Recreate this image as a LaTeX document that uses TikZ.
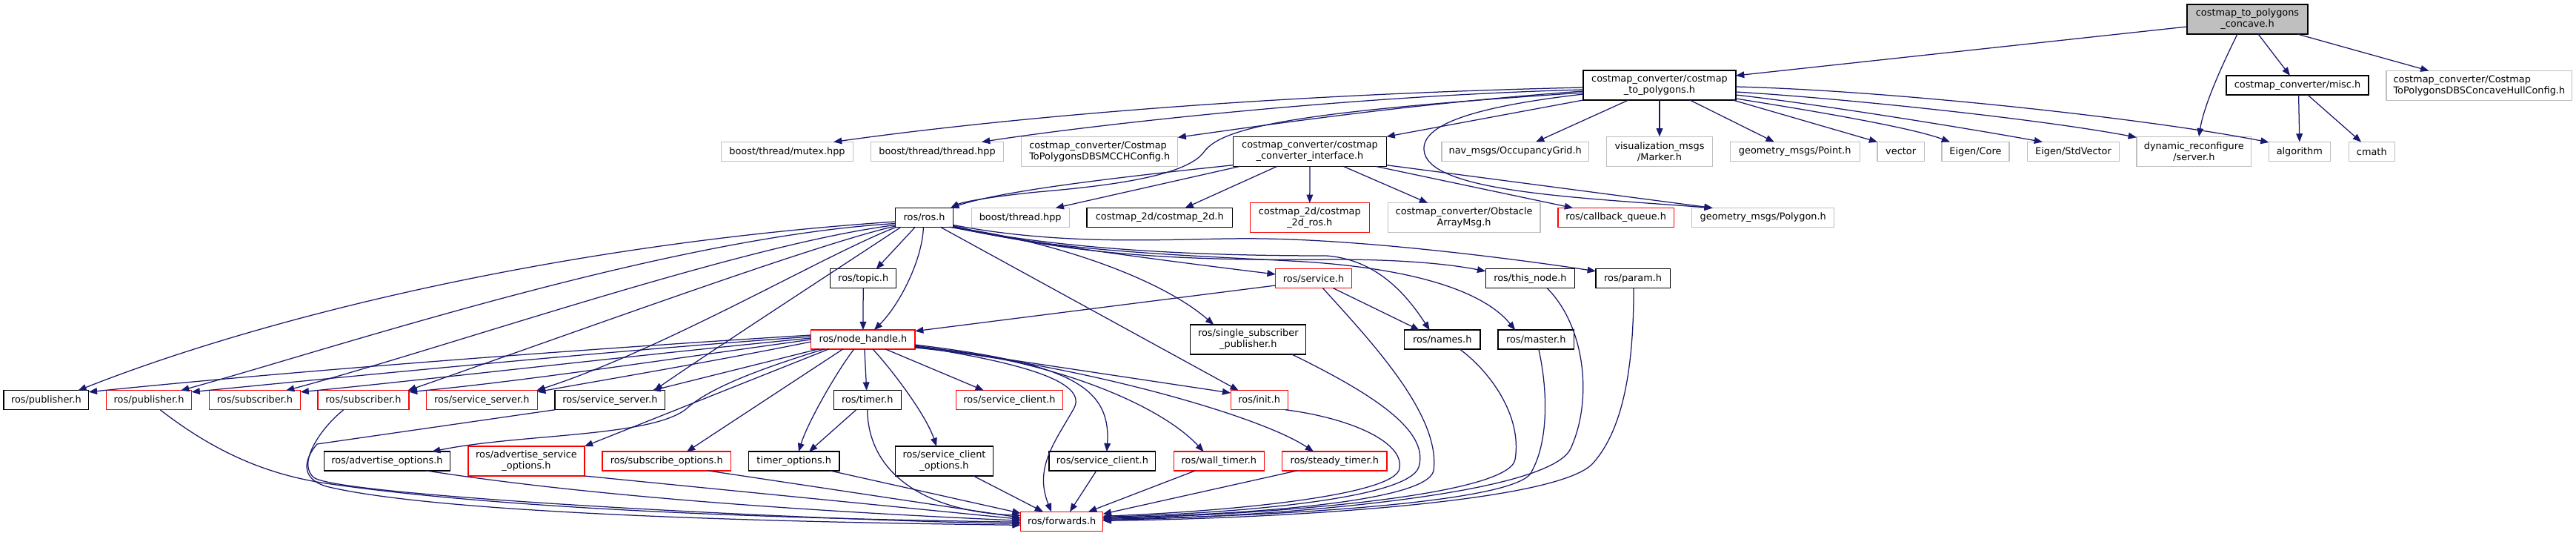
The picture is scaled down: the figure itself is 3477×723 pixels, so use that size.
\documentclass[tikz,border=0pt]{standalone}
\usepackage{fontspec}
\setmainfont{DejaVu Sans}
\usetikzlibrary{arrows.meta,calc}
\definecolor{edgec}{RGB}{25,25,112}
\definecolor{greyb}{RGB}{191,191,191}
\definecolor{redb}{RGB}{255,0,0}
\newcommand{\gn}[6]{\node[#1, minimum width=#4*0.8pt, minimum height=#5*0.8pt] (#2) at (#3) {#6};}
\begin{document}
\begin{tikzpicture}[x=0.8pt, y=-0.8pt,
  every node/.style={font=\fontsize{10.3}{12}\selectfont},
  nb/.style={draw, inner sep=0pt, align=center, line width=1pt, fill=white},
  blk/.style={nb, draw=black},
  gry/.style={nb, draw=greyb},
  rd/.style={nb, draw=redb},
  topn/.style={nb, draw=black, fill=greyb},
  e/.style={draw=edgec, line width=1pt, -{Triangle[length=9pt,width=7pt]}}]
\fill[white] (0,0) rectangle (3477,723);
\useasboundingbox (0,0) rectangle (3477,723);
% row 0-1
\gn{topn}{concave}{3033.5,26}{163}{40}{costmap\_to\_polygons\\\_concave.h}
\gn{blk}{ctp}{2240,115}{206}{40}{costmap\_converter/costmap\\\_to\_polygons.h}
\gn{blk}{misc}{3101,115}{192}{26}{costmap\_converter/misc.h}
\gn{gry,align=left}{cfgA}{3346.3,115.5}{250.5}{40}{costmap\_converter/Costmap\\ToPolygonsDBSConcaveHullConfig.h}
% row 2
\gn{gry}{mutex}{1062.5,204.5}{177.5}{26}{boost/thread/mutex.hpp}
\gn{gry}{threadA}{1265,204.5}{178.7}{26}{boost/thread/thread.hpp}
\gn{gry,align=left}{cfgB}{1484.2,204.3}{210.8}{40}{costmap\_converter/Costmap\\ToPolygonsDBSMCCHConfig.h}
\gn{blk}{iface}{1768,204.3}{207}{40}{costmap\_converter/costmap\\\_converter\_interface.h}
\gn{gry}{occ}{2045.2,204.5}{198.6}{26}{nav\_msgs/OccupancyGrid.h}
\gn{gry}{marker}{2240,204.3}{143.2}{40}{visualization\_msgs\\/Marker.h}
\gn{gry}{point}{2422.7,204.5}{174.8}{26}{geometry\_msgs/Point.h}
\gn{gry}{vector}{2565.6,204.5}{63.2}{26}{vector}
\gn{gry}{ecore}{2666.4,204.5}{91}{26}{Eigen/Core}
\gn{gry}{estd}{2798.5,204.5}{124.3}{26}{Eigen/StdVector}
\gn{gry}{dynrec}{2961.3,204.3}{154.8}{40}{dynamic\_reconfigure\\/server.h}
\gn{gry}{algo}{3103.8,204.5}{82.7}{26}{algorithm}
\gn{gry}{cmath}{3201.3,204.5}{62.1}{26}{cmath}
% row 3
\gn{blk}{rosh}{1247.6,293.5}{78.2}{26}{ros/ros.h}
\gn{gry}{threadB}{1377.2,293.5}{132.1}{26}{boost/thread.hpp}
\gn{blk}{cm2d}{1565.3,293.5}{196.5}{26}{costmap\_2d/costmap\_2d.h}
\gn{rd}{cm2dros}{1767.8,293.8}{161}{40}{costmap\_2d/costmap\\\_2d\_ros.h}
\gn{gry}{obst}{1976.1,293.8}{205.8}{40}{costmap\_converter/Obstacle\\ArrayMsg.h}
\gn{rd}{cbq}{2181.1,293.5}{156.4}{26}{ros/callback\_queue.h}
\gn{gry}{poly}{2379.7,293.5}{192}{26}{geometry\_msgs/Polygon.h}
% row 4
\gn{blk}{topic}{1165.2,375.8}{88.8}{26}{ros/topic.h}
\gn{rd}{service}{1773,375.8}{102.6}{26}{ros/service.h}
\gn{blk}{thisnode}{2065.4,375.8}{120.4}{26}{ros/this\_node.h}
\gn{blk}{param}{2204.1,375.8}{100.4}{26}{ros/param.h}
% row 5
\gn{rd}{nh}{1164.9,458}{140.4}{26}{ros/node\_handle.h}
\gn{blk}{ssp}{1684.8,458}{156}{40}{ros/single\_subscriber\\\_publisher.h}
\gn{blk}{names}{1946.7,458}{102.6}{26}{ros/names.h}
\gn{blk}{master}{2073.2,458}{102.6}{26}{ros/master.h}
% row 6
\gn{blk}{pub1}{62.4,539.7}{114.8}{26}{ros/publisher.h}
\gn{rd}{pub2}{201.1,539.7}{114.9}{26}{ros/publisher.h}
\gn{rd}{sub1}{344,539.7}{123.2}{26}{ros/subscriber.h}
\gn{rd}{sub2}{490.5,539.7}{123.1}{26}{ros/subscriber.h}
\gn{rd}{ssA}{650.3,539.7}{149.8}{26}{ros/service\_server.h}
\gn{blk}{ssB}{823.4,539.7}{148.7}{26}{ros/service\_server.h}
\gn{blk}{timer}{1170.7,539.7}{91}{26}{ros/timer.h}
\gn{rd}{sclA}{1362.5,539.7}{143.7}{26}{ros/service\_client.h}
\gn{rd}{init}{1699.7,539.7}{77.1}{26}{ros/init.h}
% row 7
\gn{blk}{advopt}{522.4,622}{170.3}{26}{ros/advertise\_options.h}
\gn{rd}{advsvc}{710.5,622}{157}{40}{ros/advertise\_service\\\_options.h}
\gn{rd}{subopt}{899.7,622}{173.6}{26}{ros/subscribe\_options.h}
\gn{blk}{timeropt}{1071.7,622}{122.6}{26}{timer\_options.h}
\gn{blk}{scopt}{1274.5,622}{132}{40}{ros/service\_client\\\_options.h}
\gn{blk}{sclB}{1487.9,622}{143.7}{26}{ros/service\_client.h}
\gn{rd}{wallt}{1645.4,622}{121.6}{26}{ros/wall\_timer.h}
\gn{rd}{steadyt}{1801.3,622}{141.4}{26}{ros/steady\_timer.h}
% row 8
\gn{rd}{fwd}{1433.2,703.3}{111}{26}{ros/forwards.h}

% ---- edges: concave
\draw[e] ($(concave)+(-81.5,10)$) -- ($(ctp)+(103,-13)$);
\draw[e] ($(concave)+(-13.5,20)$) .. controls (3003,80) and (2975,140) .. ($(dynrec)+(6.7,-20)$);
\draw[e] ($(concave)+(14.5,20)$) -- ($(misc)+(-10,-13)$);
\draw[e] ($(concave)+(67.5,20)$) -- ($(cfgA)+(-67.8,-20)$);
% misc
\draw[e] ($(misc)+(1.6,13)$) -- ($(algo)+(0,-13)$);
\draw[e] ($(misc)+(13.8,13)$) -- ($(cmath)+(-14.3,-13)$);
% ctp
\draw[e] ($(ctp)+(-103,20)$) -- ($(iface)+(103.5,-20)$);
\draw[e] ($(ctp)+(-42,20)$) -- ($(occ)+(27.8,-13)$);
\draw[e] ($(ctp)+(0,20)$) -- ($(marker)+(0,-20)$);
\draw[e] ($(ctp)+(41,20)$) -- ($(point)+(-27.9,-13)$);
\draw[e] ($(ctp)+(99,20)$) -- ($(vector)+(-31.6,-13)$);
\draw[e] ($(ctp)+(103,18)$) .. controls (2450,150) and (2580,172) .. ($(ecore)+(-34.4,-13)$);
\draw[e] ($(ctp)+(103,13)$) .. controls (2450,140) and (2650,172) .. ($(estd)+(-41.5,-13)$);
\draw[e] ($(ctp)+(103,9)$) .. controls (2480,132) and (2750,160) .. ($(dynrec)+(-77.4,-19)$);
\draw[e] ($(ctp)+(103,2)$) .. controls (2550,122) and (2900,160) .. ($(algo)+(-41.3,-12.5)$);
\draw[e] ($(ctp)+(-103,3)$) .. controls (1700,128) and (1350,160) .. ($(mutex)+(62.5,-13)$);
\draw[e] ($(ctp)+(-103,6)$) .. controls (1800,130) and (1450,172) .. ($(threadA)+(60,-13)$);
\draw[e] ($(ctp)+(-103,8)$) .. controls (1900,140) and (1700,170) .. ($(cfgB)+(105.4,-19)$);
\draw[e] ($(ctp)+(-103,10)$) .. controls (1760,150) and (1650,170) .. (1625,205) .. controls (1600,240) and (1480,252) .. (1400,259) .. controls (1340,265) and (1300,272) .. ($(rosh)+(35.4,-13)$);
\draw[e] ($(ctp)+(-103,12)$) .. controls (1980,145) and (1920,170) .. (1922,202) .. controls (1925,258) and (2120,266) .. ($(poly)+(-68,-13)$);
% iface
\draw[e] ($(iface)+(-103.5,18.4)$) .. controls (1500,240) and (1350,258) .. ($(rosh)+(35.4,-13)$);
\draw[e] ($(iface)+(-94,20)$) -- ($(threadB)+(47.5,-13)$);
\draw[e] ($(iface)+(-44,20)$) -- ($(cm2d)+(34.2,-13)$);
\draw[e] ($(iface)+(0,20)$) -- ($(cm2dros)+(0,-20)$);
\draw[e] ($(iface)+(45,20)$) -- ($(obst)+(-49,-20)$);
\draw[e] ($(iface)+(88.5,20)$) -- ($(cbq)+(-58,-13)$);
\draw[e] ($(iface)+(103.5,18.4)$) -- ($(poly)+(-68,-13)$);
% rosh left
\draw[e] ($(rosh)+(-39.1,5.5)$) .. controls (750,330) and (350,430) .. ($(pub1)+(43,-13)$);
\draw[e] ($(rosh)+(-39.1,8)$) .. controls (900,320) and (450,470) .. ($(pub2)+(43,-13)$);
\draw[e] ($(rosh)+(-39.1,10)$) .. controls (1000,330) and (600,470) .. ($(sub1)+(42,-13)$);
\draw[e] ($(rosh)+(-39.1,11.5)$) .. controls (1100,330) and (800,440) .. ($(sub2)+(60,-13)$);
\draw[e] ($(rosh)+(-37.6,12.8)$) .. controls (1120,340) and (900,470) .. ($(ssA)+(74,-13)$);
\draw[e] ($(rosh)+(-31.6,12.8)$) .. controls (1150,350) and (950,480) .. ($(ssB)+(59.6,-13)$);
% rosh others
\draw[e] ($(rosh)+(-12.3,12.8)$) -- ($(topic)+(17.4,-12.8)$);
\draw[e] ($(rosh)+(-1.2,12.8)$) .. controls (1245,350) and (1215,410) .. ($(nh)+(15,-12.8)$);
\draw[e] ($(rosh)+(35.6,12.8)$) .. controls (1400,330) and (1600,355) .. ($(service)+(-51.3,-5.8)$);
\draw[e] ($(rosh)+(33,12.8)$) .. controls (1400,320) and (1560,370) .. ($(ssp)+(-46.5,-20)$);
\draw[e] ($(rosh)+(21.7,12.8)$) -- ($(init)+(-28,-13)$);
\draw[e] ($(rosh)+(39,12.8)$) .. controls (1450,340) and (1650,345) .. (1790,345) .. controls (1860,350) and (1900,400) .. ($(names)+(-17,-12.8)$);
\draw[e] ($(rosh)+(39,11)$) .. controls (1450,345) and (1600,352) .. (1800,350) .. controls (1900,350) and (1960,357) .. ($(thisnode)+(-60.2,-10)$);
\draw[e] ($(rosh)+(39,10)$) .. controls (1450,335) and (1600,320) .. (1705,322) .. controls (1850,324) and (2050,350) .. ($(param)+(-50.2,-10)$);
\draw[e] ($(rosh)+(39,12)$) .. controls (1420,340) and (1620,345) .. (1760,353) .. controls (1900,362) and (2000,390) .. ($(master)+(-28,-12.8)$);
% topic, service
\draw[e] ($(topic)+(0,12.8)$) -- ($(nh)+(0,-12.8)$);
\draw[e] ($(service)+(-51.3,9.2)$) -- ($(nh)+(70.2,-11.3)$);
\draw[e] ($(service)+(26.3,12.8)$) -- ($(names)+(-31,-12.8)$);
\draw[e] ($(service)+(12.4,12.8)$) .. controls (1850,460) and (1945,560) .. (1935,635) .. controls (1925,680) and (1650,695) .. ($(fwd)+(55.5,-5)$);
% nh left
\draw[e] ($(nh)+(-70.2,-6)$) .. controls (800,470) and (400,500) .. ($(pub1)+(57.4,-11)$);
\draw[e] ($(nh)+(-70.2,-4)$) .. controls (800,475) and (450,510) .. ($(pub2)+(57.45,-11)$);
\draw[e] ($(nh)+(-70.2,-2)$) .. controls (850,480) and (550,515) .. ($(sub1)+(61.6,-11)$);
\draw[e] ($(nh)+(-70.2,0)$) .. controls (900,485) and (700,515) .. ($(sub2)+(61.55,-11)$);
\draw[e] ($(nh)+(-70.2,3)$) .. controls (950,490) and (800,515) .. ($(ssA)+(74.9,-11)$);
\draw[e] ($(nh)+(-60,12.8)$) -- ($(ssB)+(57,-13)$);
% nh down
\draw[e] ($(nh)+(-52,12.8)$) .. controls (1000,505) and (950,530) .. (927,551) .. controls (880,590) and (700,585) .. ($(advopt)+(60.6,-12.8)$);
\draw[e] ($(nh)+(-46,12.8)$) -- ($(advsvc)+(78.5,-20)$);
\draw[e] ($(nh)+(-27,12.8)$) -- ($(subopt)+(27.3,-12.8)$);
\draw[e] ($(nh)+(-12,12.8)$) .. controls (1130,500) and (1090,570) .. ($(timeropt)+(6.3,-12.8)$);
\draw[e] ($(nh)+(2,12.8)$) -- ($(timer)+(-1,-13)$);
\draw[e] ($(nh)+(13,12.8)$) .. controls (1205,500) and (1250,560) .. ($(scopt)+(-10.5,-20)$);
\draw[e] ($(nh)+(30,12.8)$) -- ($(sclA)+(-34.7,-13)$);
\draw[e] ($(nh)+(70.2,9)$) .. controls (1350,485) and (1470,510) .. (1450,550) .. controls (1425,595) and (1395,630) .. ($(fwd)+(-14.2,-13)$);
\draw[e] ($(nh)+(70.2,7)$) .. controls (1440,490) and (1500,520) .. ($(sclB)+(6,-12.8)$);
\draw[e] ($(nh)+(70.2,10)$) .. controls (1400,480) and (1560,540) .. ($(wallt)+(-20.7,-12.8)$);
\draw[e] ($(nh)+(70.2,11)$) .. controls (1450,490) and (1700,560) .. ($(steadyt)+(-28.3,-12.8)$);
\draw[e] ($(nh)+(70.2,8)$) -- ($(init)+(-38.5,-9.7)$);
% timer
\draw[e] ($(timer)+(-15,13)$) -- ($(timeropt)+(20.3,-12.8)$);
\draw[e] ($(timer)+(0,13)$) .. controls (1172,640) and (1250,690) .. ($(fwd)+(-55.5,-8)$);
% into forwards, from below rows
\draw[e] ($(steadyt)+(-50.3,12.8)$) -- ($(fwd)+(55.5,-10)$);
\draw[e] ($(wallt)+(-31.8,12.8)$) -- ($(fwd)+(35.8,-13)$);
\draw[e] ($(sclB)+(-7.9,12.8)$) -- ($(fwd)+(10.8,-13)$);
\draw[e] ($(scopt)+(39.5,20)$) -- ($(fwd)+(-25.2,-13)$);
\draw[e] ($(timeropt)+(48,12.8)$) -- ($(fwd)+(-55.5,-11)$);
\draw[e] ($(subopt)+(55.3,12.8)$) -- ($(fwd)+(-55.5,-5)$);
\draw[e] ($(advsvc)+(78.5,20)$) -- ($(fwd)+(-55.5,-3)$);
\draw[e] ($(advopt)+(52.3,12.8)$) .. controls (800,670) and (1100,690) .. ($(fwd)+(-55.5,-1)$);
\draw[e] ($(pub2)+(15,13)$) .. controls (290,610) and (360,640) .. (440,652) .. controls (700,690) and (1100,700) .. ($(fwd)+(-55.5,1)$);
\draw[e] ($(sub2)+(-26.7,13)$) .. controls (430,580) and (400,628) .. (425,645) .. controls (470,670) and (1100,702) .. ($(fwd)+(-55.5,3)$);
\draw[e] ($(ssB)+(-74,13)$) -- (428,599) .. controls (410,620) and (405,645) .. (440,656) .. controls (600,695) and (1100,705) .. ($(fwd)+(-55.5,5)$);
% into forwards, from the right
\draw[e] ($(init)+(35,13)$) .. controls (1830,565) and (1900,600) .. (1888,635) .. controls (1870,670) and (1650,690) .. ($(fwd)+(55.5,-7)$);
\draw[e] ($(ssp)+(59,20)$) .. controls (1850,530) and (1930,580) .. (1915,630) .. controls (1900,675) and (1650,693) .. ($(fwd)+(55.5,-6)$);
\draw[e] ($(names)+(23.3,12.8)$) .. controls (2010,500) and (2055,560) .. (2045,620) .. controls (2035,670) and (1700,695) .. ($(fwd)+(55.5,-4)$);
\draw[e] ($(master)+(3.6,12.8)$) .. controls (2090,530) and (2090,600) .. (2065,640) .. controls (2030,680) and (1700,697) .. ($(fwd)+(55.5,-3)$);
\draw[e] ($(thisnode)+(22.6,12.8)$) .. controls (2140,440) and (2150,540) .. (2120,605) .. controls (2090,670) and (1700,698) .. ($(fwd)+(55.5,-2)$);
\draw[e] ($(param)+(1,12.8)$) .. controls (2205,500) and (2190,580) .. (2150,625) .. controls (2100,680) and (1700,700) .. ($(fwd)+(55.5,-1)$);
\end{tikzpicture}
\end{document}
